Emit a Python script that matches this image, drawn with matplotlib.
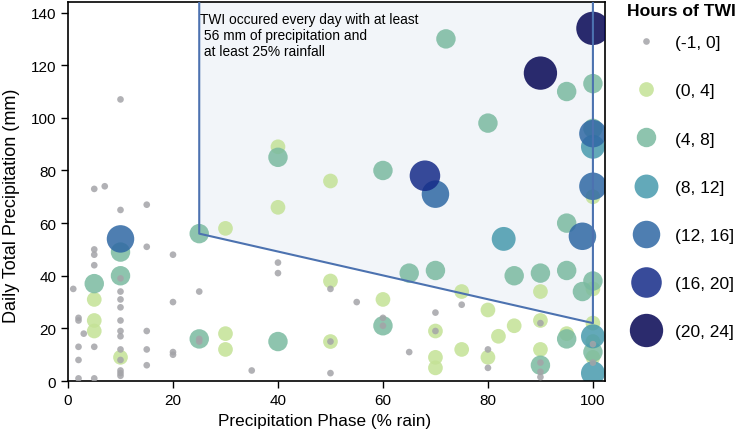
import matplotlib
matplotlib.use("Agg")
import matplotlib.pyplot as plt
from matplotlib.lines import Line2D
from matplotlib.patches import Polygon

plt.rcParams['font.family'] = ['Liberation Sans', 'DejaVu Sans']

categories = ["(-1, 0]", "(0, 4]", "(4, 8]", "(8, 12]", "(12, 16]", "(16, 20]", "(20, 24]"]

gray_x = [10, 5, 7, 10, 15, 5, 5, 5, 15, 20, 10, 1, 10, 25, 10, 10, 20, 2, 2, 10, 3, 10, 10, 15,
          25, 25, 2, 5, 10, 15, 20, 20, 10, 2, 15, 10, 10, 10, 35, 2, 5, 40, 40, 50, 55, 60, 60,
          75, 70, 90, 70, 50, 65, 80, 80, 50, 90, 90, 90, 100, 100]
gray_y = [107, 73, 74, 65, 67, 50, 48, 44, 51, 48, 39, 35, 34, 34, 31, 28, 30, 24, 23, 23, 18, 19, 17, 19,
          16, 15, 13, 13, 12, 12, 11, 10, 8, 8, 6, 4, 3, 2, 4, 1, 1, 45, 41, 35, 30, 24, 21,
          29, 26, 22, 19, 15, 11, 12, 5, 3, 7, 3.5, 1.5, 14, 7]

lg_x = [40, 40, 30, 5, 5, 5, 30, 30, 10, 50, 100, 50, 60, 75, 80, 85, 90, 82, 70, 50, 75, 70, 70,
        80, 90, 90, 95, 100, 100, 100, 100]
lg_y = [89, 66, 58, 31, 23, 19, 18, 12, 9, 76, 70, 38, 31, 34, 27, 21, 23, 17, 19, 15, 12, 9, 5,
        9, 12, 34, 18, 35, 22, 15, 9]

g_x = [40, 25, 10, 10, 5, 25, 40, 72, 95, 100, 80, 60, 100, 95, 65, 70, 85, 90, 95, 100, 98, 60,
       90, 95, 100]
g_y = [85, 56, 49, 40, 37, 16, 15, 130, 110, 113, 98, 80, 96, 60, 41, 42, 40, 41, 42, 38, 34, 21,
       6, 16, 11]

t_x = [100, 83, 100, 100]
t_y = [89, 54, 17, 3]

b_x = [10, 100, 70, 100, 98]
b_y = [54, 94, 71, 74, 55]

i_x = [68]
i_y = [78]

n_x = [100, 90]
n_y = [134, 117]

series_x = [gray_x, lg_x, g_x, t_x, b_x, i_x, n_x]
series_y = [gray_y, lg_y, g_y, t_y, b_y, i_y, n_y]

colors = ["#a4a4a8", "#c4e296", "#7abaa0", "#489aad", "#2f68a4", "#152b88", "#060654"]
diam_pt = [4.8, 10.6, 14.0, 17.2, 19.8, 22.0, 24.0]

poly_x = [25, 25, 100, 100]
poly_y = [150, 56, 22, 150]

fig = plt.figure(figsize=(7.36, 4.35), dpi=100)
ax = fig.add_axes([0.0924, 0.1218, 0.822 - 0.0924, 0.993 - 0.1218])

ax.add_patch(Polygon(list(zip(poly_x, poly_y)), closed=True, facecolor="#4c72b0", alpha=0.07,
                     edgecolor="none", zorder=1))
ax.plot(poly_x, poly_y, color="#4c72b0", lw=1.5, zorder=5)

order = [1, 2, 3, 4, 5, 6, 0]
for k in order:
    ax.scatter(series_x[k], series_y[k], s=diam_pt[k] ** 2, color=colors[k], alpha=0.85,
               edgecolors="none", zorder=2 + k * 0.1 if k else 3)

ax.text(25.15, 140.3, "TWI occured every day with at least\n 56 mm of precipitation and\n at least 25% rainfall",
        ha="left", va="top", fontsize=9.9, linespacing=1.2, zorder=6)

ax.set_xlim(0, 102.3)
ax.set_ylim(0, 144)
ax.set_xticks([0, 20, 40, 60, 80, 100])
ax.set_yticks([0, 20, 40, 60, 80, 100, 120, 140])
ax.tick_params(axis="both", direction="out", length=5, width=1, labelsize=11, color="black")
for sp in ax.spines.values():
    sp.set_color("black")
    sp.set_linewidth(1.2)
ax.set_xlabel("Precipitation Phase (% rain)", fontsize=12.3)
ax.set_ylabel("Daily Total Precipitation (mm)", fontsize=13.0)
ax.xaxis.set_label_coords(0.477, -0.085)
ax.yaxis.set_label_coords(-0.09, 0.465)

handles = [Line2D([], [], linestyle="none", marker="o", markersize=diam_pt[k], markerfacecolor=colors[k],
                  markeredgecolor="none", alpha=0.85) for k in range(7)]
fs = 12.5
leg = fig.legend(handles, categories, loc="upper left", bbox_to_anchor=(0.849, 0.925), frameon=False,
                 fontsize=fs, labelspacing=1.90, handletextpad=0.67, borderpad=0.2, borderaxespad=0)
fig.text(681 / 736, 1 - 12 / 435, "Hours of TWI", ha="center", va="center", fontsize=12.6,
         fontweight="bold")

fig.savefig("out.png", dpi=100)
